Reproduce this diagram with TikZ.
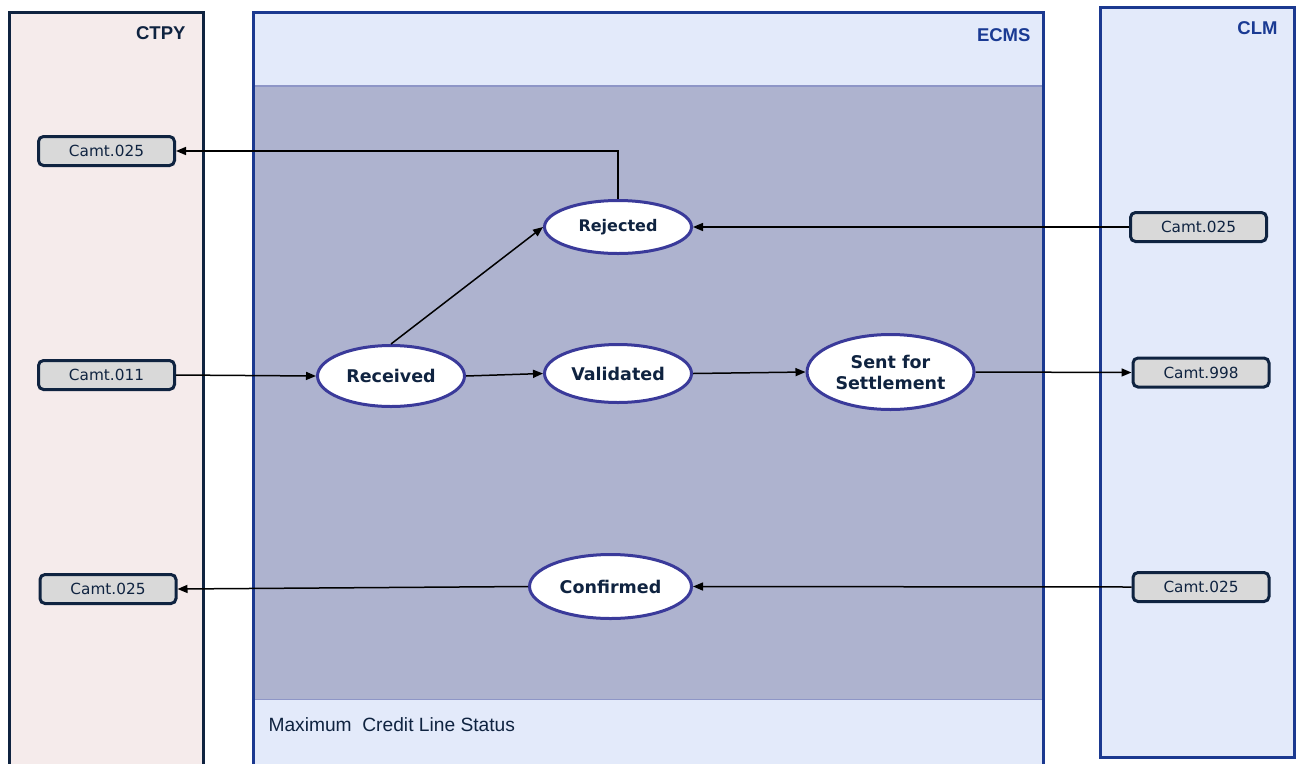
\documentclass[tikz,border=0pt]{standalone}
\usepackage{fontspec}
\setmainfont{DejaVu Sans}
\newfontfamily\arialfont{Liberation Sans}
\usetikzlibrary{shapes.geometric,arrows.meta}
\definecolor{ctpyfill}{HTML}{F5EBEB}
\definecolor{navy}{HTML}{0F2340}
\definecolor{ecmsfill}{HTML}{E3EAFA}
\definecolor{ecmsline}{HTML}{1B3990}
\definecolor{innerfill}{HTML}{AEB3CF}
\definecolor{innerline}{HTML}{8E96C7}
\definecolor{ellline}{HTML}{3A3A9A}
\definecolor{boxfill}{HTML}{D9D9D9}
\definecolor{lbltext}{HTML}{1A3A93}
\tikzset{
  msgbox/.style={draw=navy,fill=boxfill,line width=3pt,rounded corners=5pt,minimum width=136pt,minimum height=29pt,inner sep=0pt,font=\fontsize{15.3}{17}\selectfont,text=navy},
  state/.style={ellipse,draw=ellline,fill=white,line width=3pt,inner sep=0pt,font=\fontsize{17.5}{21}\selectfont\bfseries,text=navy,align=center},
  arr/.style={line width=1.5pt,-{Triangle[length=10pt,width=8pt]}},
  paneltitle/.style={font=\arialfont\fontsize{18.5}{20}\selectfont\bfseries,anchor=east}
}
\begin{document}
\begin{tikzpicture}[x=1pt,y=-1pt]
\useasboundingbox (0,0) rectangle (1300,763);
\begin{scope}
\clip (0,0) rectangle (1300,763);
% panels
\draw[draw=navy,fill=ctpyfill,line width=3pt] (9,12) rectangle (203,780);
\draw[draw=ecmsline,fill=ecmsfill,line width=3pt] (253,12) rectangle (1043,780);
\fill[innerfill] (254.5,86) rectangle (1041.5,699);
\draw[innerline,line width=2pt] (254.5,86) -- (1041.5,86);
\draw[innerline,line width=1pt] (254.5,699) -- (1041.5,699);
\draw[draw=ecmsline,line width=3pt] (253,12) -- (253,780) (1043,12) -- (1043,780);
\draw[draw=ecmsline,fill=ecmsfill,line width=3pt] (1100,7) rectangle (1294,757);
\end{scope}
% titles
\node[paneltitle,text=navy] (tctpy) at (189,33) {CTPY};
\node[paneltitle,text=lbltext] (tecms) at (1034,35) {ECMS};
\node[paneltitle,text=lbltext] (tclm) at (1281,28) {CLM};
\node[anchor=west,font=\arialfont\fontsize{19.2}{21}\selectfont,text=navy] (mcls) at (265,725) {Maximum\ \ Credit Line Status};
% message boxes
\node[msgbox] (ca) at (106.5,151) {Camt.025};
\node[msgbox] (cb) at (106.5,375) {Camt.011};
\node[msgbox] (cc) at (108,589) {Camt.025};
\node[msgbox] (la) at (1198.5,227) {Camt.025};
\node[msgbox] (lb) at (1201,372.5) {Camt.998};
\node[msgbox] (lc) at (1201,587) {Camt.025};
% states
\node[state,font=\fontsize{16}{18}\selectfont\bfseries,minimum width=147pt,minimum height=53pt] (rej) at (618,227) {Rejected};
\node[state,minimum width=147pt,minimum height=61pt] (rec) at (391,376) {Received};
\node[state,minimum width=147pt,minimum height=58pt] (val) at (618,373.5) {Validated};
\node[state,minimum width=167pt,minimum height=75pt] (sent) at (890.5,372) {Sent for\\Settlement};
\node[state,minimum width=162pt,minimum height=64pt] (conf) at (610.5,586.5) {Confirmed};
% connectors
\draw[arr] (rej.north) |- (ca.east);
\draw[arr] (la.west) -- (rej.east);
\draw[arr] (cb.east) -- (rec.west);
\draw[arr] (rec.north) -- (rej.west);
\draw[arr] (rec.east) -- (val.west);
\draw[arr] (val.east) -- (sent.west);
\draw[arr] (sent.east) -- (lb.west);
\draw[arr] (lc.west) -- (conf.east);
\draw[arr] (conf.west) -- (cc.east);
\end{tikzpicture}
\end{document}
